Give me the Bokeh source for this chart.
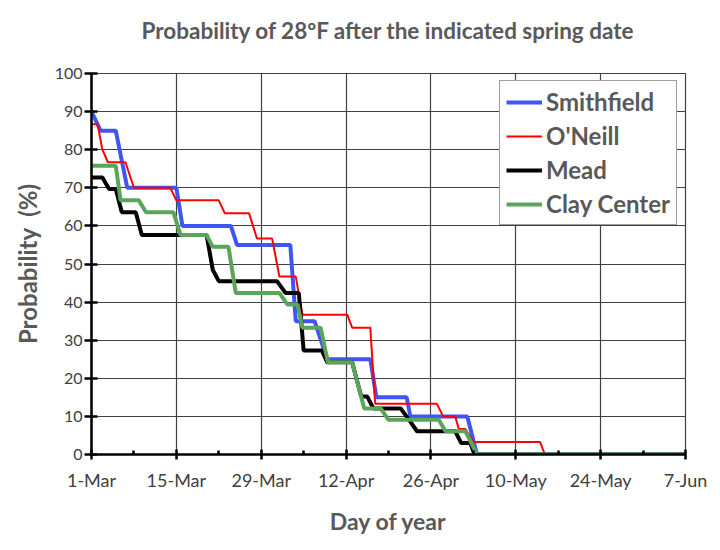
from bokeh.plotting import figure
from bokeh.models import FixedTicker, LinearAxis
from bokeh.embed import file_html
from bokeh.resources import INLINE

# x positions are days after 1 March
tick_days = [0, 14, 28, 42, 56, 70, 84, 98]
tick_labels = ["1-Mar", "15-Mar", "29-Mar", "12-Apr", "26-Apr", "10-May", "24-May", "7-Jun"]
minor_days = [7, 21, 35, 49, 63, 77, 91]
y_ticks = [0, 10, 20, 30, 40, 50, 60, 70, 80, 90, 100]

smith_day = [0, 1.5, 4, 5.9, 14, 15, 23, 24, 32.8, 33.7, 36.8, 38.9, 46, 47, 52, 52.6, 62, 63.6, 98]
smith_prob = [90, 85, 85, 70, 70, 60, 60, 55, 55, 35, 35, 25, 25, 15, 15, 10, 10, 0, 0]

oneill_day = [0, 1, 1.8, 2.7, 5.6, 7, 13, 14, 21, 22, 26, 27.3, 29.8, 31, 33.7, 34.8, 42.2, 43,
              46, 46.8, 57, 58, 60, 60.6, 61.7, 63, 74, 74.8, 98]
oneill_prob = [86.7, 86.7, 80, 76.7, 76.7, 70, 70, 66.7, 66.7, 63.3, 63.3, 56.7, 56.7, 46.7, 46.7,
               36.7, 36.7, 33.3, 33.3, 13.3, 13.3, 10, 10, 6.7, 6.7, 3.3, 3.3, 0, 0]

mead_day = [0, 1.8, 2.9, 4, 5, 7.3, 8.3, 19, 20, 21, 30.6, 32, 34.2, 35, 38, 38.9, 43, 44.5,
            45.5, 46.5, 51, 52.4, 53.7, 60, 61, 62.5, 63.2, 98]
mead_prob = [72.7, 72.7, 69.7, 69.7, 63.6, 63.6, 57.6, 57.6, 48.5, 45.5, 45.5, 42.4, 42.4, 27.3,
             27.3, 24.2, 24.2, 15.2, 15.2, 12.1, 12.1, 9.1, 6.1, 6.1, 3.0, 3.0, 0, 0]

clay_day = [0, 4, 4.8, 7.8, 9, 13.5, 14.7, 19, 20, 22.6, 23.8, 31, 32.3, 34, 34.8, 37.8, 39, 43,
            45, 47.7, 49, 57.3, 58.4, 61.7, 63.6, 98]
clay_prob = [75.8, 75.8, 66.7, 66.7, 63.6, 63.6, 57.6, 57.6, 54.5, 54.5, 42.4, 42.4, 39.4, 39.4,
             33.3, 33.3, 24.2, 24.2, 12.1, 12.1, 9.1, 9.1, 6.1, 6.1, 0, 0]

title_text = "Probability of 28\u00baF after the indicated spring date"

GREY = "#595959"
FONT = "Lato"

p = figure(width=718, height=548, x_range=(0, 98), y_range=(0, 100),
           output_backend="svg", toolbar_location=None,
           min_border_left=91, min_border_right=33, min_border_top=73, min_border_bottom=94)

p.line(smith_day, smith_prob, line_color="#3F55F5", line_width=4, legend_label="Smithfield")
p.line(oneill_day, oneill_prob, line_color="#FF0000", line_width=2, legend_label="O'Neill")
p.line(mead_day, mead_prob, line_color="#000000", line_width=4, legend_label="Mead")
p.line(clay_day, clay_prob, line_color="#5AA55A", line_width=4, legend_label="Clay Center")

xa = p.below[0]
ya = p.left[0]

# axes
xa.ticker = FixedTicker(ticks=tick_days, minor_ticks=minor_days)
xa.major_label_overrides = {d: t for d, t in zip(tick_days, tick_labels)}
ya.ticker = FixedTicker(ticks=y_ticks, minor_ticks=[])
for ax in (xa, ya):
    ax.axis_line_color = "black"
    ax.axis_line_width = 2.5
    ax.major_tick_line_color = "black"
    ax.major_tick_line_width = 2.5
    ax.minor_tick_line_color = "black"
    ax.minor_tick_line_width = 2.5
    ax.major_label_text_font = FONT
    ax.major_label_text_color = "#404040"
    ax.axis_label_text_font = FONT
    ax.axis_label_text_font_style = "bold"
    ax.axis_label_text_color = GREY

xa.major_label_text_font_size = "18px"
ya.major_label_text_font_size = "16px"
xa.axis_label_text_font_size = "23px"
ya.axis_label_text_font_size = "24px"

xa.major_tick_in = 5
xa.major_tick_out = 5
xa.minor_tick_in = 4
xa.minor_tick_out = 0
xa.major_label_standoff = 9
xa.axis_label = "Day of year"
xa.axis_label_standoff = 13

ya.major_tick_in = 6
ya.major_tick_out = 7
ya.major_label_standoff = 2
ya.axis_label = "Probability\u00a0 (%)"
ya.axis_label_standoff = 10

# chart title drawn as the label of a tick-less axis above the frame
title_axis = LinearAxis(ticker=FixedTicker(ticks=[], minor_ticks=[]), axis_label=title_text)
title_axis.axis_line_alpha = 0
title_axis.major_tick_in = 0
title_axis.major_tick_out = 0
title_axis.minor_tick_in = 0
title_axis.minor_tick_out = 0
title_axis.major_label_standoff = 0
title_axis.major_label_text_alpha = 0
title_axis.axis_label_standoff = 30
title_axis.axis_label_text_font = FONT
title_axis.axis_label_text_font_size = "22.5px"
title_axis.axis_label_text_font_style = "bold"
title_axis.axis_label_text_color = GREY
p.add_layout(title_axis, "above")

# grid
p.xgrid.ticker = FixedTicker(ticks=tick_days)
p.ygrid.ticker = FixedTicker(ticks=y_ticks)
for g in (p.xgrid, p.ygrid):
    g.grid_line_color = "#404040"
    g.grid_line_width = 1.2
p.outline_line_color = "#404040"
p.outline_line_width = 1.2

# legend
lg = p.legend[0]
lg.location = (408, 229)
lg.label_text_font = FONT
lg.label_text_font_size = "24px"
lg.label_text_font_style = "bold"
lg.label_text_color = GREY
lg.glyph_width = 36
lg.glyph_height = 24
lg.label_standoff = 4
lg.label_width = 121
lg.spacing = 5
lg.padding = 6
lg.margin = 0
lg.border_line_color = "#404040"
lg.border_line_width = 1.2
lg.background_fill_alpha = 1

open("out.html", "w").write(file_html(p, INLINE))
